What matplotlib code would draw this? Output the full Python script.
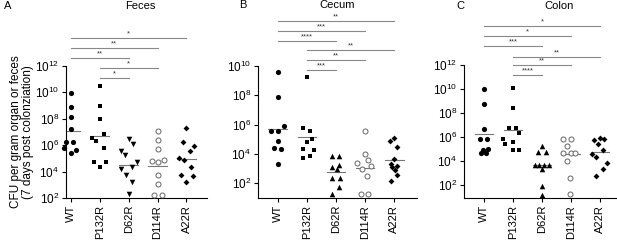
import numpy as np
import matplotlib
matplotlib.use("Agg")
import matplotlib.pyplot as plt

plt.rcParams['font.family'] = ['Liberation Sans', 'DejaVu Sans']
plt.rcParams['mathtext.default'] = 'regular'

groups = ['WT', 'P132R', 'D62R', 'D114R', 'A22R']

# log10 CFU values, with horizontal jitter (category units)
feces_wt = [9.95, 8.87, 8.17, 7.24, 6.21, 6.21, 5.81, 5.61, 5.38]
feces_wt_dx = [0, 0, 0, 0, -0.17, 0.06, -0.24, 0.18, 0]
feces_p132r = [10.45, 8.99, 7.99, 6.86, 6.54, 6.31, 5.78, 4.73, 4.71, 4.33]
feces_p132r_dx = [0, 0, 0, 0.14, -0.27, -0.12, 0.14, -0.21, 0.22, 0]
feces_d62r = [6.44, 6.08, 5.58, 5.28, 4.76, 4.38, 4.16, 3.78, 3.2, 2.28]
feces_d62r_dx = [0, 0.15, -0.25, -0.13, 0.28, 0.13, -0.25, -0.08, 0.13, 0]
feces_d114r = [7.06, 6.36, 5.71, 4.83, 4.76, 4.88, 3.75, 3.03, 2.25, 2.25]
feces_d114r_dx = [0, 0, 0, -0.21, 0, 0.23, 0, 0, -0.13, 0.14]
feces_a22r = [7.34, 6.21, 5.93, 5.56, 5.03, 4.88, 4.33, 3.75, 3.68, 3.23]
feces_a22r_dx = [0, -0.12, 0.27, 0.13, -0.25, -0.1, 0.14, -0.18, 0.23, 0]
feces_mean = [7.04, 6.66, 4.53, 4.46, 4.98]

cecum_wt = [9.57, 7.92, 5.9, 5.58, 5.58, 4.88, 4.4, 4.31, 3.34]
cecum_wt_dx = [0, 0, 0.2, -0.23, 0, 0, -0.13, 0.11, 0]
cecum_p132r = [9.26, 5.79, 5.58, 4.99, 4.81, 4.31, 4.24, 3.86, 3.7]
cecum_p132r_dx = [0, -0.14, 0.11, 0.18, 0, -0.14, 0.23, 0.1, -0.14]
cecum_d62r = [3.86, 3.86, 3.22, 3.11, 3.0, 2.34, 2.34, 1.73, 1.25]
cecum_d62r_dx = [-0.14, 0.11, 0.11, -0.15, 0.03, -0.14, 0.13, 0.11, -0.15]
cecum_d114r = [5.54, 4.02, 3.59, 3.41, 3.0, 3.15, 2.52, 1.27, 1.27]
cecum_d114r_dx = [0, 0, 0.11, -0.28, -0.1, 0.2, 0.07, -0.13, 0.11]
cecum_a22r = [5.08, 4.86, 4.45, 3.63, 3.31, 3.2, 3.1, 2.9, 2.57, 2.18]
cecum_a22r_dx = [0, -0.15, 0.11, 0, -0.13, 0.08, -0.07, 0.04, 0.11, -0.13]
cecum_mean = [5.72, 5.17, 2.79, 3.07, 3.56]

colon_wt = [10.04, 8.72, 6.66, 5.88, 5.8, 5.03, 4.92, 4.64, 4.64]
colon_wt_dx = [0, 0, 0, -0.15, 0.12, 0.14, -0.05, -0.1, 0.06]
colon_p132r = [10.12, 8.39, 6.74, 6.74, 6.36, 5.86, 5.61, 5.39, 4.92, 4.92]
colon_p132r_dx = [0, 0, -0.13, 0.12, 0.2, -0.33, 0, -0.28, 0, 0.2]
colon_d62r = [5.25, 4.73, 4.73, 3.71, 3.71, 3.71, 3.71, 3.32, 1.94, 1.17]
colon_d62r_dx = [0, -0.14, 0.14, -0.24, -0.09, 0.07, 0.25, 0, 0, 0]
colon_d114r = [5.86, 5.86, 5.25, 4.7, 4.7, 4.7, 4.01, 2.58, 1.26]
colon_d114r_dx = [-0.26, 0, -0.15, -0.26, 0, 0.14, -0.13, -0.03, -0.03]
colon_a22r = [5.9, 5.86, 5.75, 5.45, 4.92, 4.56, 4.37, 3.82, 3.38, 2.77]
colon_a22r_dx = [0, 0.14, -0.2, -0.08, 0.1, -0.27, -0.14, 0.25, 0.1, -0.15]
colon_mean = [6.27, 6.55, 3.65, 4.56, 4.75]

# significance brackets: (from, to, label, pixel row in the figure)
feces_sig = [(0, 4, '*', 38), (0, 3, '**', 48), (0, 2, '**', 58),
             (1, 3, '*', 68), (1, 2, '*', 78)]
cecum_sig = [(0, 4, '**', 21), (0, 3, '***', 31), (0, 2, '****', 41),
             (1, 4, '**', 50), (1, 3, '**', 60), (1, 2, '***', 70)]
colon_sig = [(0, 4, '*', 26), (0, 3, '*', 36), (0, 2, '***', 46),
             (1, 4, '**', 57), (1, 3, '**', 65), (1, 2, '****', 75)]

W, H = 617, 242
fig = plt.figure(figsize=(W / 100, H / 100), dpi=100)

def make_axes(left, right, top, bottom):
    return fig.add_axes([left / W, 1 - bottom / H, (right - left) / W, (bottom - top) / H])

def draw_panel(ax, data, dxs, means, tri, ylog, xlim, sig, top, bottom):
    styles = [dict(marker='o', s=14, c='black', linewidths=0),
              dict(marker='s', s=12, c='black', linewidths=0),
              dict(marker=tri, s=16, c='black', linewidths=0),
              dict(marker='o', s=13, facecolors='white', edgecolors='#666666', linewidths=0.7),
              dict(marker='D', s=9, c='black', linewidths=0)]
    for i, (vals, dx) in enumerate(zip(data, dxs)):
        x = i + np.array(dx)
        ax.scatter(x, 10 ** np.array(vals), zorder=3, clip_on=False, **styles[i])
        ax.plot([i - 0.32, i + 0.32], [10 ** means[i]] * 2, color='#777777', lw=0.8, zorder=2)
    ax.set_yscale('log')
    ax.set_ylim(10 ** ylog[0], 10 ** ylog[1])
    ax.set_xlim(*xlim)
    ax.set_xticks(range(5))
    ax.set_xticklabels(groups, rotation=90, fontsize=8)
    ticks = list(range(2, int(ylog[1]) + 1, 2))
    ax.set_yticks([10.0 ** t for t in ticks])
    ax.set_yticklabels([r'$10^{%d}$' % t for t in ticks], fontsize=8.5)
    ax.yaxis.set_minor_locator(matplotlib.ticker.NullLocator())
    ax.tick_params(length=3, width=0.8, pad=2)
    for s in ['top', 'right']:
        ax.spines[s].set_visible(False)
    for s in ['left', 'bottom']:
        ax.spines[s].set_linewidth(0.8)
    tr = ax.get_xaxis_transform()
    for a, b, lab, py in sig:
        yy = (bottom - py) / (bottom - top)
        ax.plot([a, b], [yy, yy], color='#888888', lw=0.8, transform=tr, clip_on=False)
        ax.text((a + b) / 2, yy + 0.005, lab, fontsize=5.5, ha='center', va='bottom',
                transform=tr, color='#333333')

axA = make_axes(66, 207, 66, 198)
draw_panel(axA, [feces_wt, feces_p132r, feces_d62r, feces_d114r, feces_a22r],
           [feces_wt_dx, feces_p132r_dx, feces_d62r_dx, feces_d114r_dx, feces_a22r_dx],
           feces_mean, 'v', (2, 12), (-0.17, 4.71), feces_sig, 66, 198)
axA.set_ylabel('CFU per gram organ or feces\n(7 days post colonziation)', fontsize=8.5,
               labelpad=1, linespacing=1.0)

axB = make_axes(258, 417, 66, 198)
draw_panel(axB, [cecum_wt, cecum_p132r, cecum_d62r, cecum_d114r, cecum_a22r],
           [cecum_wt_dx, cecum_p132r_dx, cecum_d62r_dx, cecum_d114r_dx, cecum_a22r_dx],
           cecum_mean, '^', (1.0, 10), (-0.68, 4.78), cecum_sig, 66, 198)

axC = make_axes(464, 617, 65, 198)
draw_panel(axC, [colon_wt, colon_p132r, colon_d62r, colon_d114r, colon_a22r],
           [colon_wt_dx, colon_p132r_dx, colon_d62r_dx, colon_d114r_dx, colon_a22r_dx],
           colon_mean, '^', (0.93, 12), (-0.69, 4.59), colon_sig, 65, 198)

for x, y, t in [(4, 6, 'A'), (239, 5, 'B'), (456, 6, 'C')]:
    fig.text(x / W, 1 - y / H, t, fontsize=8, va='center')
for x, y, t in [(140, 6, 'Feces'), (337, 5, 'Cecum'), (559, 6, 'Colon')]:
    fig.text(x / W, 1 - y / H, t, fontsize=8, va='center', ha='center')

fig.savefig('out.png', dpi=100)
